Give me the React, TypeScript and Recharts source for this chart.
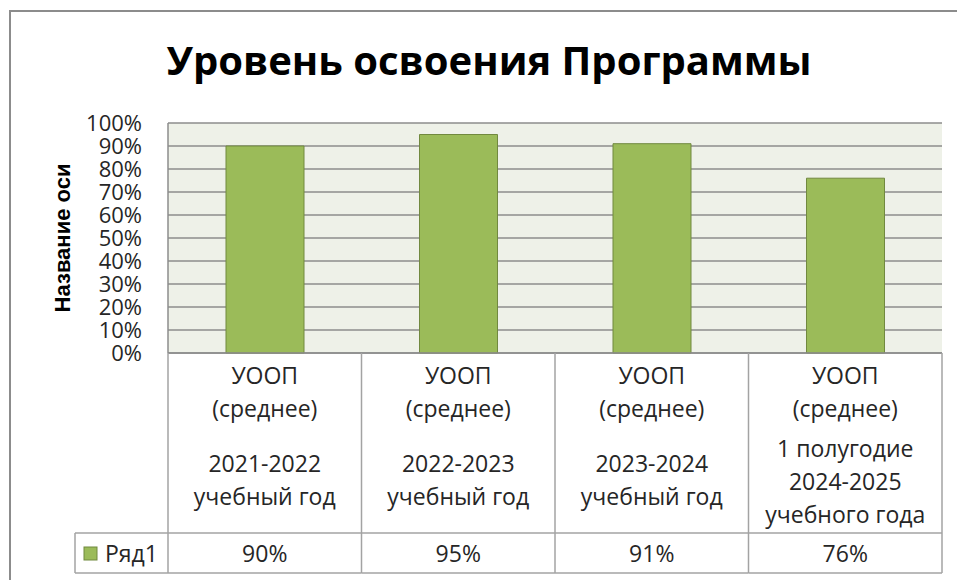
import React from 'react';
import { BarChart, Bar, XAxis, YAxis, CartesianGrid } from 'recharts';

const categories = [
  'УООП\n(среднее)\n\n2021-2022\nучебный год',
  'УООП\n(среднее)\n\n2022-2023\nучебный год',
  'УООП\n(среднее)\n\n2023-2024\nучебный год',
  'УООП\n(среднее)\n1 полугодие\n2024-2025\nучебного года',
];
const values = [90, 95, 91, 76];
const seriesName = 'Ряд1';
const yTicks = [0, 10, 20, 30, 40, 50, 60, 70, 80, 90, 100];

const chartTitle = 'Уровень освоения Программы';
const axisTitle = 'Название оси';

const data = categories.map((name, i) => ({ name, value: values[i] }));

const FONT = '"Open Sans", sans-serif';
const TEXT = '#262626';
const LINE = '#a3a3a3';

function TableTick(props: any) {
  const { x, y, payload, index, width, visibleTicksCount } = props;
  const half = visibleTicksCount ? width / visibleTicksCount / 2 : payload.offset;
  const left = x - half;
  const right = x + half;
  const rowTop = y + 180;
  const rowBottom = y + 220;
  const lines = String(payload.value).split('\n');

  let pos = y + 22;
  let prevBlank = false;
  const texts = lines.map((line, i) => {
    if (i > 0) pos += prevBlank ? 15 : i === 2 ? 40 : 33;
    prevBlank = line === '';
    return line === '' ? null : (
      <text key={i} x={x} y={pos} textAnchor="middle" dominantBaseline="central"
        fontFamily={FONT} fontSize={23} fill={TEXT}>{line}</text>
    );
  });

  return (
    <g>
      {texts}
      <line x1={right} y1={y} x2={right} y2={rowBottom} stroke={LINE} strokeWidth={1.5} />
      <line x1={left} y1={rowTop} x2={right} y2={rowTop} stroke={LINE} strokeWidth={1.5} />
      <line x1={left} y1={rowBottom} x2={right} y2={rowBottom} stroke={LINE} strokeWidth={1.5} />
      <text x={x} y={rowTop + 20} textAnchor="middle" dominantBaseline="central"
        fontFamily={FONT} fontSize={23} fill={TEXT}>{values[index] + '%'}</text>
      {index === 0 && (
        <g>
          <line x1={left} y1={y} x2={left} y2={rowBottom} stroke={LINE} strokeWidth={1.5} />
          <line x1={left - 93} y1={rowTop} x2={left} y2={rowTop} stroke={LINE} strokeWidth={1.5} />
          <line x1={left - 93} y1={rowBottom} x2={left} y2={rowBottom} stroke={LINE} strokeWidth={1.5} />
          <line x1={left - 93} y1={rowTop} x2={left - 93} y2={rowBottom} stroke={LINE} strokeWidth={1.5} />
          <rect x={left - 84} y={rowTop + 14} width={13} height={13} fill="#9BBB59" stroke="#71893F" />
          <text x={left - 63} y={rowTop + 20} dominantBaseline="central"
            fontFamily={FONT} fontSize={23} fill={TEXT}>{seriesName}</text>
        </g>
      )}
    </g>
  );
}

function AxisTitle(props: any) {
  const { viewBox } = props;
  const cx = viewBox.x - 6;
  const cy = viewBox.y + viewBox.height / 2;
  return (
    <text x={cx} y={cy} transform={`rotate(-90, ${cx}, ${cy})`} textAnchor="middle" dominantBaseline="central"
      fontFamily='"Liberation Sans", Arial, sans-serif' fontWeight="bold" fontSize={22} fill="#000">
      {axisTitle}
    </text>
  );
}

export default function App() {
  return (
    <div style={{ position: 'absolute', left: 0, top: 0, width: 957, height: 580, background: '#fff', overflow: 'hidden' }}>
      <div style={{ position: 'absolute', left: 9, top: 10, width: 1000, height: 700, border: '2px solid #8c8c8c', boxSizing: 'border-box' }} />
      <div style={{ position: 'absolute', left: 0, top: 40, width: 978, textAlign: 'center', fontFamily: FONT, fontWeight: 700, fontSize: 40, lineHeight: 1, color: '#000' }}>
        {chartTitle}
      </div>
      <div style={{ position: 'absolute', left: 0, top: 0 }}>
        <BarChart width={957} height={580} data={data} margin={{ top: 123, right: 15, bottom: 0, left: 68 }}>
          <CartesianGrid vertical={false} stroke="#8c8c8c" strokeWidth={1.5} fill="#EEF1E8" fillOpacity={1} />
          <XAxis dataKey="name" height={227} interval={0} tickSize={0} tickMargin={0}
            axisLine={{ stroke: '#8c8c8c', strokeWidth: 1.5 }} tickLine={false} tick={<TableTick />} />
          <YAxis width={100} domain={[0, 100]} ticks={yTicks} interval={0} tickFormatter={(v) => v + '%'}
            tickSize={0} tickMargin={26} tickLine={false} axisLine={{ stroke: '#8c8c8c', strokeWidth: 1.5 }}
            tick={{ fontFamily: FONT, fontSize: 22, fill: TEXT }}
            label={<AxisTitle />} />
          <Bar dataKey="value" name={seriesName} fill="#9BBB59" stroke="#71893F" strokeWidth={1} barSize={78} isAnimationActive={false} />
        </BarChart>
      </div>
    </div>
  );
}
